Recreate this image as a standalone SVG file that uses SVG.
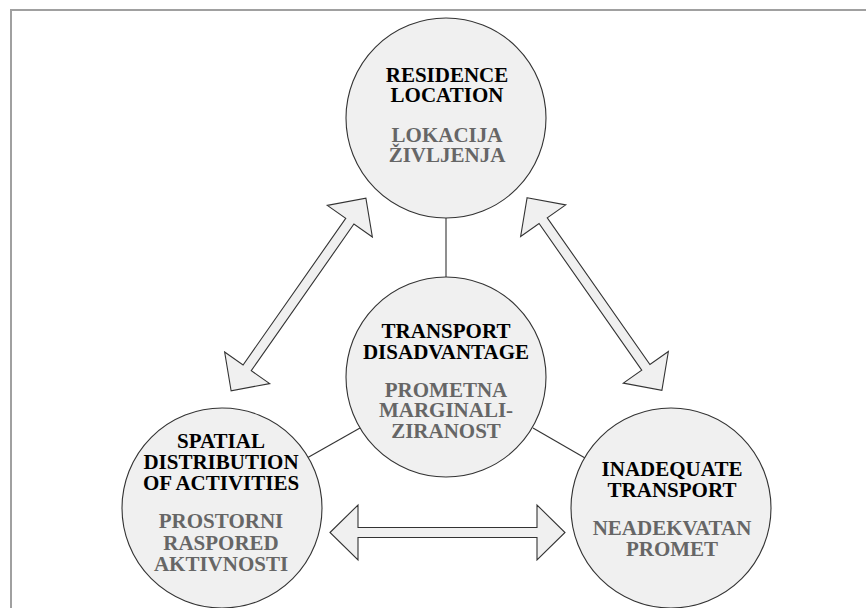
<svg xmlns="http://www.w3.org/2000/svg" width="866" height="608" viewBox="0 0 866 608">
<defs>
<style>
.frame{stroke:#a0a0a0;stroke-width:2;fill:none}
.node{fill:#f0f0f0;stroke:#333;stroke-width:1.1}
.link{stroke:#333;stroke-width:1.1;fill:none}
.arrow{fill:#f0f0f0;stroke:#333;stroke-width:1.1;stroke-linejoin:miter}
.t{font-family:"Liberation Serif","Times New Roman",serif;font-weight:bold;font-size:21px;text-anchor:middle}
.en{fill:#000}
.sl{fill:#666}
</style>
<path id="dblarrow" class="arrow" d="M -117.5 0 L -89.5 -27.5 L -89.5 -5 L 89.5 -5 L 89.5 -27.5 L 117.5 0 L 89.5 27.5 L 89.5 5 L -89.5 5 L -89.5 27.5 Z"/>
</defs>
<rect width="866" height="608" fill="#fff"/>
<path class="frame" d="M 11 608 L 11 10 L 866 10"/>
<g id="connectors">
<line class="link" x1="446" y1="218" x2="446" y2="277"/>
<line class="link" x1="360" y1="428" x2="307" y2="458"/>
<line class="link" x1="533" y1="428" x2="585" y2="458"/>
<use href="#dblarrow" transform="translate(298.5 294.5) rotate(-55)"/>
<use href="#dblarrow" transform="translate(594.5 294) rotate(55)"/>
<use href="#dblarrow" transform="translate(447.5 532.5)"/>
</g>
<g id="residence">
<circle class="node" cx="446" cy="118" r="100"/>
<text class="t en" x="447" y="82">RESIDENCE</text>
<text class="t en" x="447" y="102">LOCATION</text>
<text class="t sl" x="447" y="142">LOKACIJA</text>
<text class="t sl" x="447" y="162">ŽIVLJENJA</text>
</g>
<g id="transport-disadvantage">
<circle class="node" cx="446" cy="377" r="100"/>
<text class="t en" x="446" y="338">TRANSPORT</text>
<text class="t en" x="446" y="359">DISADVANTAGE</text>
<text class="t sl" x="446" y="397">PROMETNA</text>
<text class="t sl" x="446" y="417">MARGINALI-</text>
<text class="t sl" x="446" y="438">ZIRANOST</text>
</g>
<g id="spatial">
<circle class="node" cx="222" cy="508" r="100"/>
<text class="t en" x="221" y="448">SPATIAL</text>
<text class="t en" x="221" y="469">DISTRIBUTION</text>
<text class="t en" x="221" y="490">OF ACTIVITIES</text>
<text class="t sl" x="221" y="528">PROSTORNI</text>
<text class="t sl" x="221" y="550">RASPORED</text>
<text class="t sl" x="221" y="571">AKTIVNOSTI</text>
</g>
<g id="inadequate">
<circle class="node" cx="671" cy="508" r="100"/>
<text class="t en" x="672" y="476">INADEQUATE</text>
<text class="t en" x="672" y="497">TRANSPORT</text>
<text class="t sl" x="672" y="535">NEADEKVATAN</text>
<text class="t sl" x="672" y="556">PROMET</text>
</g>
</svg>
